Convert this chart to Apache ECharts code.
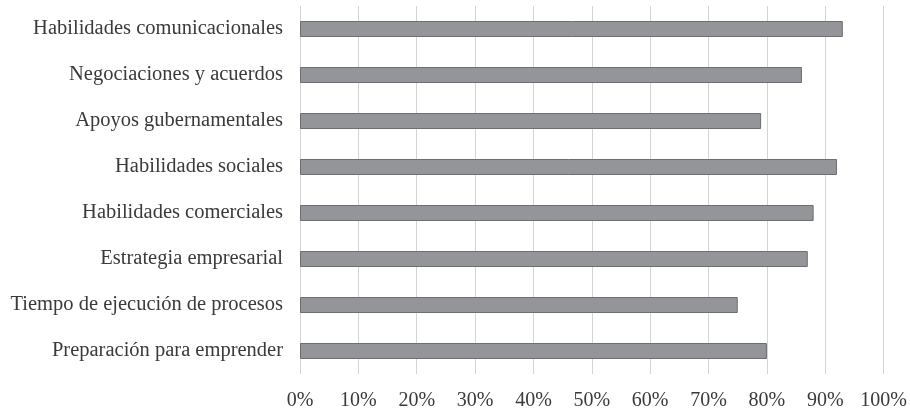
<!DOCTYPE html>
<html><head><meta charset="utf-8">
<script src="https://cdn.jsdelivr.net/npm/echarts@6/dist/echarts.min.js"></script>
<style>html,body{margin:0;padding:0;background:#fff}#c{width:910px;height:415px}</style>
</head><body><div id="c"></div>
<script>
const categories = [
  "Preparación para emprender",
  "Tiempo de ejecución de procesos",
  "Estrategia empresarial",
  "Habilidades comerciales",
  "Habilidades sociales",
  "Apoyos gubernamentales",
  "Negociaciones y acuerdos",
  "Habilidades comunicacionales"
];
const values = [80, 75, 87, 88, 92, 79, 86, 93];
const xTicks = { min: 0, max: 100, interval: 10 };

const chart = echarts.init(document.getElementById('c'), null, {renderer: 'canvas'});
chart.setOption({
  animation: false,
  backgroundColor: '#ffffff',
  grid: { left: 300, right: 26, top: 6, bottom: 41, containLabel: false },
  xAxis: {
    type: 'value', min: xTicks.min, max: xTicks.max, interval: xTicks.interval,
    axisLine: { show: false }, axisTick: { show: false },
    splitLine: { show: true, lineStyle: { color: '#d4d4d4', width: 1 } },
    axisLabel: { formatter: '{value}%', margin: 17, color: '#3a3a3a',
      fontFamily: 'Liberation Serif', fontSize: 20 }
  },
  yAxis: {
    type: 'category', data: categories,
    axisLine: { show: false }, axisTick: { show: false },
    axisLabel: { margin: 17, color: '#3a3a3a', fontFamily: 'Liberation Serif', fontSize: 20.5 }
  },
  series: [{
    type: 'bar', data: values, barWidth: 16,
    itemStyle: { color: '#939598', borderColor: '#6d6e71', borderWidth: 1 }
  }]
});
</script></body></html>
